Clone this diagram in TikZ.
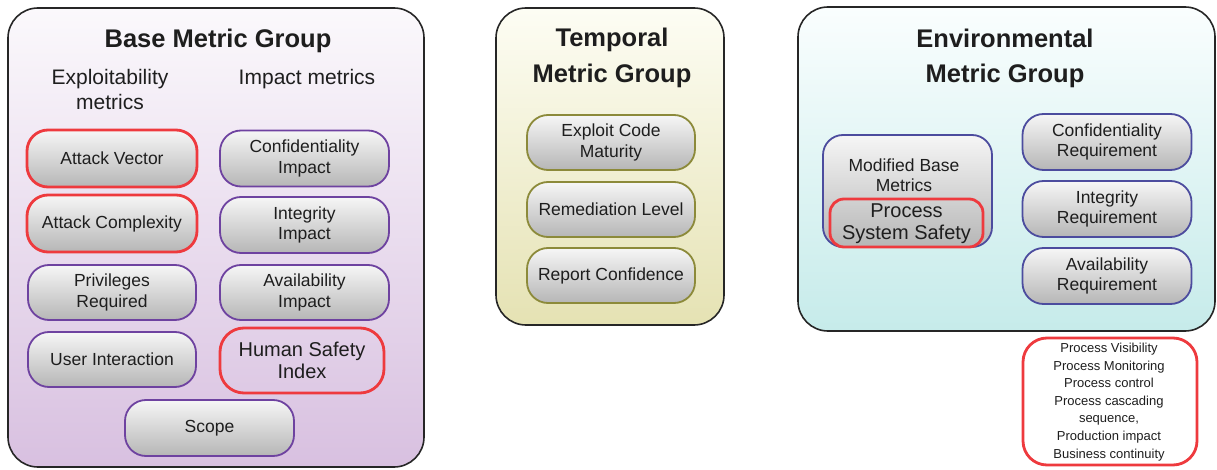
\documentclass[tikz,border=0pt]{standalone}
\usepackage{fontspec}
\setmainfont{Liberation Sans}
\definecolor{txt}{HTML}{1E1E1E}
\definecolor{purp}{HTML}{6E42A0}
\definecolor{oliv}{HTML}{8C8A3A}
\definecolor{blu}{HTML}{4C4C9E}
\definecolor{redb}{HTML}{EE3A3E}
\definecolor{basebot}{HTML}{D8C0E0}
\definecolor{basetop}{HTML}{FBF9FC}
\definecolor{tempbot}{HTML}{E5E2B3}
\definecolor{temptop}{HTML}{FDFDF4}
\definecolor{envbot}{HTML}{C6EBEA}
\definecolor{envtop}{HTML}{FAFEFE}
\definecolor{pilltop}{HTML}{F6F6F6}
\definecolor{pillbot}{HTML}{B6B6B6}
\tikzset{
  grp/.style={draw=black!85, line width=1.6pt, rounded corners=30pt, inner sep=0pt},
  grptitle/.style={anchor=base, text=txt, font=\fontsize{25.5}{34}\selectfont\bfseries, align=center},
  subtitle/.style={anchor=base, text=txt, font=\fontsize{21}{25}\selectfont, align=center},
  pill/.style={rounded corners=21pt, line width=1.8pt, top color=pilltop, bottom color=pillbot,
     minimum width=169pt, minimum height=56pt, inner sep=0pt, align=center, text=txt,
     font=\fontsize{17.5}{20.5}\selectfont},
  pb/.style={pill, draw=purp},
  po/.style={pill, draw=oliv},
  pu/.style={pill, draw=blu},
  hot/.style={draw=redb, line width=2.8pt},
}
\begin{document}
\begin{tikzpicture}[x=1pt,y=-1pt]
\useasboundingbox (0,0) rectangle (1217,470);
% ---------- Base Metric Group ----------
\node[grp, top color=basetop, bottom color=basebot, minimum width=416pt, minimum height=459pt] (base) at (216,237.5) {};
\node[grptitle] (baseT) at (218,48) {Base Metric Group};
\node[subtitle] (expl) at (110,110) {Exploitability\\metrics};
\node[subtitle] (impm) at (307,85) {Impact metrics};
\node[pb, hot, minimum width=170pt, minimum height=57pt] (av) at (112,158.5) {Attack Vector};
\node[pb, hot, minimum width=170pt, minimum height=57pt] (ac) at (112,223.5) {Attack Complexity};
\node[pb, minimum width=168pt, minimum height=55pt] (pr) at (112,292.5) {Privileges\\Required};
\node[pb, minimum width=168pt, minimum height=55pt] (ui) at (112,359.5) {User Interaction};
\node[pb] (ci) at (304.5,158.5) {Confidentiality\\Impact};
\node[pb] (ii) at (304.5,225) {Integrity\\Impact};
\node[pb, minimum height=55pt] (ai) at (304.5,292.5) {Availability\\Impact};
\node[draw=redb, line width=2.8pt, rounded corners=24pt, minimum width=164pt, minimum height=65pt,
      inner sep=0pt, align=center, text=txt, font=\fontsize{20}{22}\selectfont] (hsi) at (302,360.5) {Human Safety\\Index};
\node[pb] (scope) at (209.5,428) {Scope};
% ---------- Temporal Metric Group ----------
\node[grp, top color=temptop, bottom color=tempbot, minimum width=228pt, minimum height=317pt] (temp) at (610,166.5) {};
\node[grptitle] (tempT) at (612,47) {Temporal};
\node[grptitle] (tempT2) at (612,83) {Metric Group};
\node[po, minimum width=168pt, minimum height=55pt] (ecm) at (611,142.5) {Exploit Code\\Maturity};
\node[po, minimum width=168pt, minimum height=55pt] (rl) at (611,209.5) {Remediation Level};
\node[po, minimum width=168pt, minimum height=55pt] (rc) at (611,275.5) {Report Confidence};
% ---------- Environmental Metric Group ----------
\node[grp, top color=envtop, bottom color=envbot, minimum width=417pt, minimum height=324pt] (env) at (1006.5,169) {};
\node[grptitle] (envT) at (1005,48) {Environmental};
\node[grptitle] (envT2) at (1005,83) {Metric Group};
\node[pu, rounded corners=20pt, minimum width=169pt, minimum height=112pt] (mbm) at (907.5,191) {};
\node[anchor=base, text=txt, align=center, font=\fontsize{17.5}{20}\selectfont] (mbmT) at (904,192) {Modified Base\\Metrics};
\node[draw=redb, line width=2.8pt, rounded corners=14pt, minimum width=153pt, minimum height=48pt,
      inner sep=0pt] (pss) at (906.5,223) {};
\node[anchor=base, text=txt, align=center, font=\fontsize{20}{22}\selectfont] (pssT) at (906.5,239.5) {Process\\System Safety};
\node[pu] (cr) at (1107,142) {Confidentiality\\Requirement};
\node[pu] (ir) at (1107,209) {Integrity\\Requirement};
\node[pu] (ar) at (1107,276) {Availability\\Requirement};
% ---------- note ----------
\node[draw=redb, line width=2.8pt, rounded corners=24pt, fill=white, minimum width=174pt, minimum height=127pt,
      inner sep=0pt] (note) at (1110,401.5) {};
\node[anchor=base, text=txt, align=center, font=\fontsize{13}{17.6}\selectfont] (noteT) at (1109,458)
  {Process Visibility\\Process Monitoring\\Process control\\Process cascading\\sequence,\\Production impact\\Business continuity};
\end{tikzpicture}
\end{document}
